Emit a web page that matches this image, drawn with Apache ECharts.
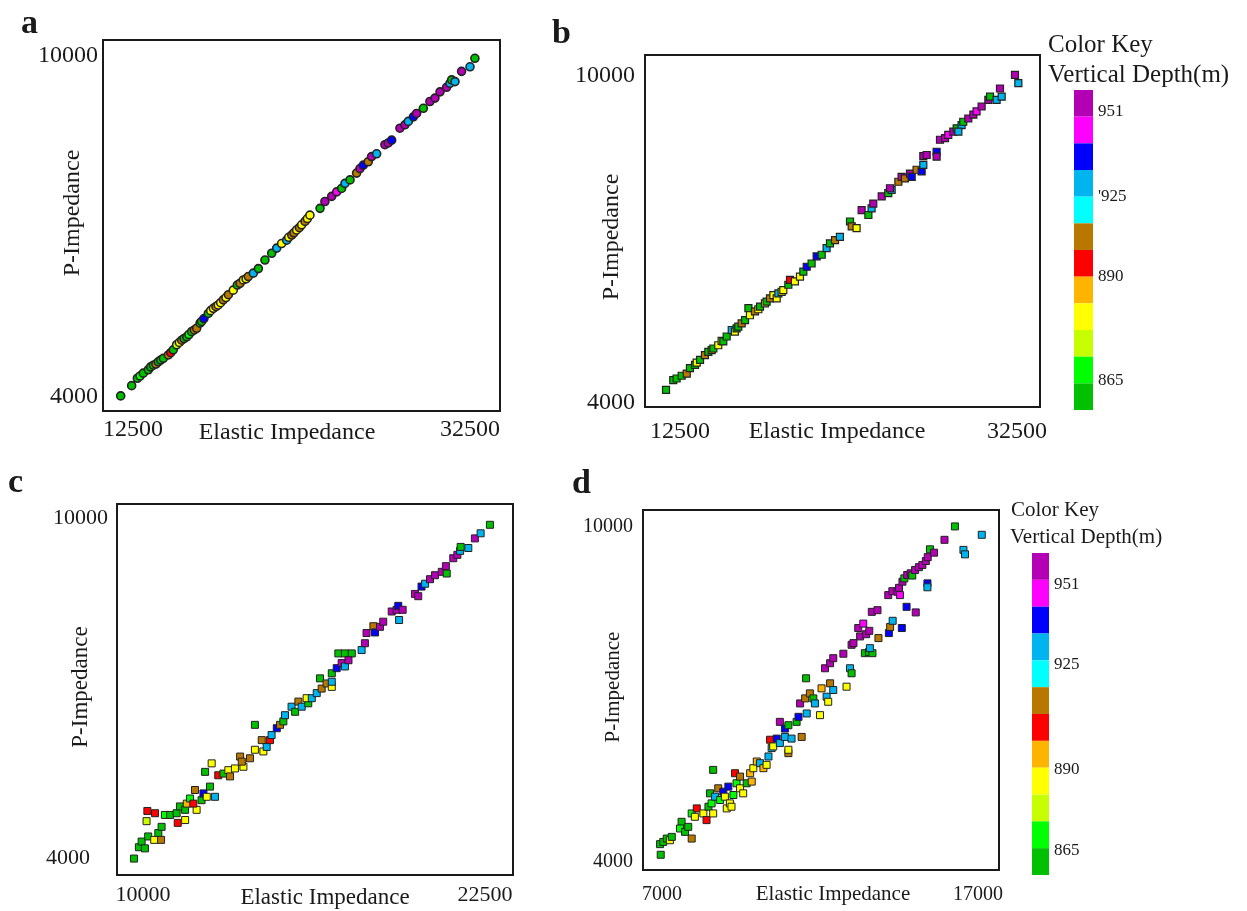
<!DOCTYPE html>
<html>
<head>
<meta charset="utf-8">
<title>Elastic Impedance vs P-Impedance</title>
<script src="https://cdn.jsdelivr.net/npm/echarts@6/dist/echarts.min.js"></script>
<style>
  html, body { margin: 0; padding: 0; background: #fff; }
  #chart { width: 1247px; height: 911px; }
</style>
</head>
<body>
<div id="chart"></div>
<script>
// colour key, top (deepest) to bottom; depth class 0 = bottom green, 11 = top purple
var keyColors = ['#b400b4', '#ff00ff', '#0000ff', '#00b4f0', '#00ffff', '#b87800',
  '#ff0000', '#ffb400', '#ffff00', '#c8ff00', '#00ff00', '#00c000'];
var keyLabels = ['951', "'925", '890', '865'];
var keyLabelsD = ['951', '925', '890', '865'];
var keyLabelPosB = [0.8, 4.0, 7.0, 10.9];
var keyLabelPosD = [1.18, 4.17, 8.08, 11.07];

// tick labels
var xTicksA = [12500, 32500], yTicksA = [4000, 10000];
var xTicksB = [12500, 32500], yTicksB = [4000, 10000];
var xTicksC = [10000, 22500], yTicksC = [4000, 10000];
var xTicksD = [7000, 17000], yTicksD = [4000, 10000];

// a
var eiA = [11770,12420,12760,12920,13110,13410,13550,13710,13860,14000,
  14140,14300,14600,14740,14890,15090,15250,15390,15530,15690,
  15820,15980,16140,16280,16480,16570,16710,16970,17110,17270,
  17420,17560,17700,17860,18020,18160,18450,18690,18850,19050,
  19210,19340,19640,19940,20330,20730,21030,21320,21620,21740,
  21920,22050,22210,22370,22510,22710,22850,23000,23600,23890,
  24290,24590,24880,25080,25380,25770,25970,26170,26460,26660,
  26960,27450,27650,27850,28340,28640,28840,29140,29330,29730,
  30120,30420,30720,31110,31310,31410,31610,32000,32500,32790];
var piA = [4020,4200,4330,4370,4420,4480,4530,4560,4580,4620,
  4650,4680,4740,4780,4830,4920,4960,5000,5030,5060,
  5100,5150,5180,5210,5300,5330,5380,5470,5520,5560,
  5590,5620,5660,5710,5750,5800,5880,5970,6000,6060,
  6080,6120,6180,6260,6410,6530,6620,6700,6760,6810,
  6850,6890,6940,6980,7030,7090,7140,7200,7320,7440,
  7530,7610,7670,7760,7820,7940,8020,8080,8140,8230,
  8280,8440,8470,8520,8730,8790,8850,8930,8990,9080,
  9200,9260,9370,9450,9520,9580,9550,9730,9810,9960];
var depthA = [0,0,0,1,0,0,0,0,6,0, 0,0,6,5,0,2,3,6,0,0,
  1,0,6,6,0,0,9,0,3,3, 6,3,3,6,3,6,3,0,6,3,
  3,6,8,0,0,0,8,3,8,3, 6,6,3,6,3,6,3,3,0,11,
  11,10,0,8,0,6,11,9,6,11, 8,11,11,9,11,11,8,9,11,0,
  11,11,11,11,8,0,8,11,8,0];

// b
var eiB = [11670,12100,12300,12600,12900,13090,13390,13490,13690,13980,
  14180,14380,14480,14770,14970,15070,15270,15570,15760,15860,
  15960,16160,16360,16560,16650,16950,17150,17250,17540,17640,
  17840,18040,18240,18340,18530,18630,18930,19030,19320,19620,
  19820,20020,20310,20610,20910,21200,21400,21700,21990,22590,
  22690,22980,23280,23680,23870,23970,24470,24860,25060,24960,
  25460,25650,25850,26150,26250,26540,26840,26940,26940,27140,
  27730,27730,27930,28230,28420,28720,28920,29210,29020,29310,
  29610,29910,30100,30400,30800,30900,31290,31590,31490,32380,
  32580];
var piB = [4240,4420,4450,4500,4540,4640,4700,4740,4790,4880,
  4940,4970,5000,5060,5140,5130,5220,5340,5310,5370,
  5400,5460,5520,5740,5610,5680,5720,5770,5830,5860,
  5920,5980,5920,6010,6040,6070,6170,6260,6230,6320,
  6410,6500,6560,6690,6720,6840,6930,6990,7050,7330,
  7240,7210,7540,7450,7570,7660,7790,7850,7910,7940,
  8060,8150,8120,8210,8150,8280,8250,8370,8530,8550,
  8610,8520,8830,8860,8920,8980,9040,9100,8980,9160,
  9220,9290,9350,9440,9560,9620,9560,9620,9770,10020,
  9870];
var depthB = [0,0,0,0,6,0,0,3,0,6, 0,6,0,3,3,0,0,8,3,0,
  0,6,0,0,3,6,3,0,3,0, 6,3,3,8,3,3,0,5,3,3,
  0,9,0,9,0,8,0,6,8,0, 6,3,11,0,8,11,11,0,8,11,
  6,11,6,11,9,6,9,8,11,11, 9,11,11,11,10,11,0,8,8,0,
  11,11,10,11,11,0,8,8,11,11, 8];

// c
var eiC = [9670,9850,9950,10070,10190,10130,10160,10440,10410,10560,
  10660,10680,10800,10990,11230,11270,11350,11540,11600,11720,
  11540,11900,11960,11840,12140,12210,12330,12450,12510,12270,
  12630,12750,12940,13120,13180,13360,13550,13670,13610,13910,
  14090,14090,14340,14400,14520,14640,14700,14890,15010,15130,
  15190,15430,15560,15680,15800,16040,15980,16170,16350,16470,
  16530,16710,16900,16900,16900,17080,17260,17380,17140,17380,
  17630,17510,17990,18110,18170,18420,18480,18660,18780,19090,
  19270,19330,19490,19360,19940,20060,20180,20310,20490,20670,
  20920,21100,21070,21340,21490,21590,21610,21890,22130,22340,
  22680];
var piC = [3990,4190,4290,4170,4380,4650,4830,4790,4320,4440,
  4320,4550,4760,4760,4790,4620,4910,4850,4960,5050,
  4670,5200,4850,4960,5020,5140,5080,5260,5670,5520,
  5080,5460,5490,5550,5440,5580,5790,5610,5700,5760,
  5910,6350,6080,5880,5960,6080,6170,6290,6350,6410,
  6520,6670,6580,6760,6670,6730,6820,6820,6910,7170,
  6990,7080,7020,7110,7260,7350,7440,7380,7610,7610,
  7610,7490,7670,7790,7970,8090,7980,8080,8170,8350,
  8380,8450,8380,8200,8660,8620,8790,8840,8920,8990,
  9050,9020,9150,9290,9350,9420,9490,9470,9640,9730,
  9880];
var depthC = [0,0,0,0,0,2,5,5,3,0, 6,0,1,0,0,5,0,0,4,1,
  3,6,3,5,0,9,3,0,3,0, 8,5,0,3,6,3,6,3,6,6,
  3,0,6,3,8,5,8,9,6,0, 8,8,0,6,8,0,3,8,8,0,
  6,6,3,8,0,9,11,8,0,0, 0,11,8,11,11,6,9,11,11,11,
  11,9,11,8,11,11,9,8,11,11, 11,0,11,11,11,8,0,8,11,8,
  0];

// d
var eiD = [6960,6940,7040,7150,7250,7310,7620,7570,7730,7830,
  7940,7940,8100,8040,8310,8410,8470,8570,8620,8520,
  8620,8680,8780,8840,8940,8990,9100,9050,9150,9200,
  9260,9310,9360,9470,9470,9570,9680,9790,9840,9890,
  10000,10100,10210,10310,10370,10470,10420,10520,10630,10730,
  10890,11000,11000,11100,11420,10730,10890,11000,11260,11320,
  11370,11530,11580,11680,11790,11840,12000,12050,12210,12320,
  12260,12420,11560,12160,12320,12420,12740,12840,12950,13000,
  13000,13060,13210,13370,13270,13460,13560,13420,13550,13660,
  13580,13850,13640,13820,14180,14220,14300,14590,14740,15030,
  14160,14290,14450,14500,14530,14610,14670,14760,14870,14920,
  15010,15130,15240,15350,15410,15480,15610,15400,15400,15940,
  16270,16540,16590,17120];
var piD = [4130,4320,4360,4420,4390,4450,4720,4600,4540,4630,
  4420,4870,4960,4810,4870,4750,4990,5050,4870,5230,
  5650,5170,5320,5110,5260,5170,5350,4960,5050,4990,
  5200,5590,5410,5320,5530,5230,5410,5590,5440,5680,
  5800,5770,5680,5740,5890,6040,6190,6070,6210,6130,
  6240,5950,6010,6210,6240,6510,6390,6450,6510,6600,
  6840,6930,6660,7020,6930,6840,6630,7110,6960,7200,
  6870,7080,7290,7470,7560,7650,7730,7140,7470,7890,
  7380,7920,8190,8270,8040,8080,8140,7740,7760,7740,
  7830,8010,8480,8510,8100,8210,8320,8190,8570,8470,
  8780,8850,8840,8910,8780,9020,9080,9140,9170,9130,
  9230,9280,9320,9390,9460,9600,9540,8990,8920,9770,
  10010,9590,9510,9860];
var depthD = [0,0,0,0,3,0,0,1,0,0, 6,1,5,3,3,5,0,1,3,0,
  0,8,6,1,9,3,9,3,3,3, 1,5,1,3,6,3,0,4,4,3,
  4,8,4,3,8,8,5,3,9,8, 8,6,3,8,6,11,9,0,0,9,
  11,6,8,6,0,8,3,4,8,6, 3,8,0,11,11,11,11,3,8,11,
  0,11,11,10,11,11,11,0,0,0, 8,6,11,11,9,6,8,9,9,11,
  11,11,11,11,10,11,0,11,11,0, 11,11,11,11,11,0,11,9,8,11,
  0,8,8,8];

var serif = '"Liberation Serif", "Times New Roman", serif';
var ink = '#1a1a1a';

var panels = [
  { ei: eiA, pi: piA, depth: depthA, xTicks: xTicksA, yTicks: yTicksA,
    box: [103, 40, 397, 371], xRange: [10720, 34280], yRange: [3754, 10282],
    fs: 24, nameFs: 24, xMargin: 7, yMargin: 5, xNameGap: 10, yNameGap: 18,
    xNamePad: [0, 29, 0, 0], yNamePad: [0, 0, 0, 25], symbol: 'circle', size: 8, border: 1.6 },
  { ei: eiB, pi: piB, depth: depthB, xTicks: xTicksB, yTicks: yTicksB,
    box: [645, 55, 395, 352], xRange: [10423, 33865], yRange: [3927, 10385],
    fs: 24, nameFs: 24, xMargin: 13, yMargin: 10, xNameGap: 13, yNameGap: 21,
    xNamePad: [0, 11, 0, 0], yNamePad: [0, 12, 0, 0], symbol: 'rect', size: 7, border: 1.2 },
  { ei: eiC, pi: piC, depth: depthC, xTicks: xTicksC, yTicks: yTicksC,
    box: [117, 504, 396, 371], xRange: [9050, 23523], yRange: [3700, 10247],
    fs: 22, nameFs: 23, xMargin: 9, yMargin: 9, xNameGap: 11, yNameGap: 25,
    xNamePad: [0, 0, 0, 20], yNamePad: [0, 0, 0, 5], symbol: 'rect', size: 7, border: 1, lowPad: 18 },
  { ei: eiD, pi: piD, depth: depthD, xTicks: xTicksD, yTicks: yTicksD,
    box: [643, 510, 356, 360], xRange: [6399, 17665], yRange: [3857, 10304],
    fs: 20, nameFs: 21, xMargin: 15, yMargin: 10, xNameGap: 14, yNameGap: 19,
    xNamePad: [0, 0, 0, 24], yNamePad: [0, 0, 0, 6], symbol: 'rect', size: 7, border: 1 }
];

var grids = [], xAxes = [], yAxes = [], series = [];

panels.forEach(function (p, i) {
  grids.push({
    left: p.box[0], top: p.box[1], width: p.box[2], height: p.box[3],
    show: true, borderColor: ink, borderWidth: 2, outerBoundsMode: 'none'
  });
  xAxes.push({
    gridIndex: i, type: 'value', min: p.xRange[0], max: p.xRange[1],
    axisLine: { show: false }, axisTick: { show: false }, splitLine: { show: false },
    axisLabel: {
      customValues: p.xTicks, margin: p.xMargin, color: ink,
      fontFamily: serif, fontSize: p.fs,
      formatter: function (v) { return String(v); }
    },
    name: 'Elastic Impedance', nameLocation: 'middle', nameGap: p.xNameGap, nameMoveOverlap: false,
    nameTextStyle: { fontFamily: serif, fontSize: p.nameFs, color: ink, padding: p.xNamePad }
  });
  var yLabel = {
    customValues: p.yTicks, margin: p.yMargin, color: ink,
    fontFamily: serif, fontSize: p.fs,
    formatter: function (v) { return String(v); }
  };
  if (p.lowPad) {
    // the lower label sits further out from the frame
    yLabel.formatter = function (v) {
      return v === p.yTicks[0] ? '{lo|' + v + '}' : String(v);
    };
    yLabel.rich = { lo: { padding: [0, p.lowPad, 0, 0], fontFamily: serif, fontSize: p.fs, color: ink } };
  }
  yAxes.push({
    gridIndex: i, type: 'value', min: p.yRange[0], max: p.yRange[1],
    axisLine: { show: false }, axisTick: { show: false }, splitLine: { show: false },
    axisLabel: yLabel,
    name: 'P-Impedance', nameLocation: 'middle', nameGap: p.yNameGap, nameMoveOverlap: false,
    nameTextStyle: { fontFamily: serif, fontSize: p.nameFs, color: ink, padding: p.yNamePad }
  });
  series.push({
    type: 'scatter', xAxisIndex: i, yAxisIndex: i,
    symbol: p.symbol, symbolSize: p.size, silent: true,
    data: p.ei.map(function (x, k) { return [x, p.pi[k], p.depth[k]]; }),
    itemStyle: {
      color: function (d) { return keyColors[11 - d.value[2]]; },
      borderColor: '#222', borderWidth: p.border, opacity: 1
    }
  });
});

// colour keys for b and d
var keys = [
  { box: [1074, 90, 19, 320], pos: keyLabelPosB, labels: keyLabels, fs: 17, margin: 5 },
  { box: [1032, 553, 17, 322], pos: keyLabelPosD, labels: keyLabelsD, fs: 17, margin: 5 }
];
keys.forEach(function (k) {
  var g = grids.length;
  grids.push({ left: k.box[0], top: k.box[1], width: k.box[2], height: k.box[3], outerBoundsMode: 'none' });
  xAxes.push({ gridIndex: g, type: 'value', min: 0, max: 1, show: false });
  var yi = yAxes.length;
  yAxes.push({
    gridIndex: g, type: 'category', inverse: true, show: false,
    data: keyColors.map(function (c, n) { return String(n); })
  });
  yAxes.push({
    gridIndex: g, type: 'value', min: 0, max: 12, inverse: true, position: 'right',
    axisLine: { show: false }, axisTick: { show: false }, splitLine: { show: false },
    axisLabel: {
      customValues: k.pos, margin: k.margin, color: ink, fontFamily: serif, fontSize: k.fs,
      formatter: function (v) {
        var best = 0;
        k.pos.forEach(function (q, n) { if (Math.abs(q - v) < Math.abs(k.pos[best] - v)) best = n; });
        return k.labels[best];
      }
    }
  });
  series.push({
    type: 'bar', xAxisIndex: g, yAxisIndex: yi, barWidth: '100%', silent: true,
    data: keyColors.map(function (c) { return { value: 1, itemStyle: { color: c } }; })
  });
});

function label(text, x, y, size, bold) {
  return {
    type: 'text', x: x, y: y, silent: true,
    style: {
      text: text, fill: ink, fontFamily: serif, fontSize: size,
      fontWeight: bold ? 'bold' : 'normal', verticalAlign: 'middle'
    }
  };
}

var chart = echarts.init(document.getElementById('chart'));
chart.setOption({
  animation: false,
  backgroundColor: '#fff',
  grid: grids,
  xAxis: xAxes,
  yAxis: yAxes,
  series: series,
  graphic: [
    label('a', 21, 24, 34, true),
    label('b', 552, 34, 34, true),
    label('c', 8, 483, 34, true),
    label('d', 572, 484, 34, true),
    label('Color Key', 1048, 45, 25),
    label('Vertical Depth(m)', 1048, 75, 25),
    label('Color Key', 1011, 510, 21),
    label('Vertical Depth(m)', 1010, 537, 21)
  ]
});
</script>
</body>
</html>
